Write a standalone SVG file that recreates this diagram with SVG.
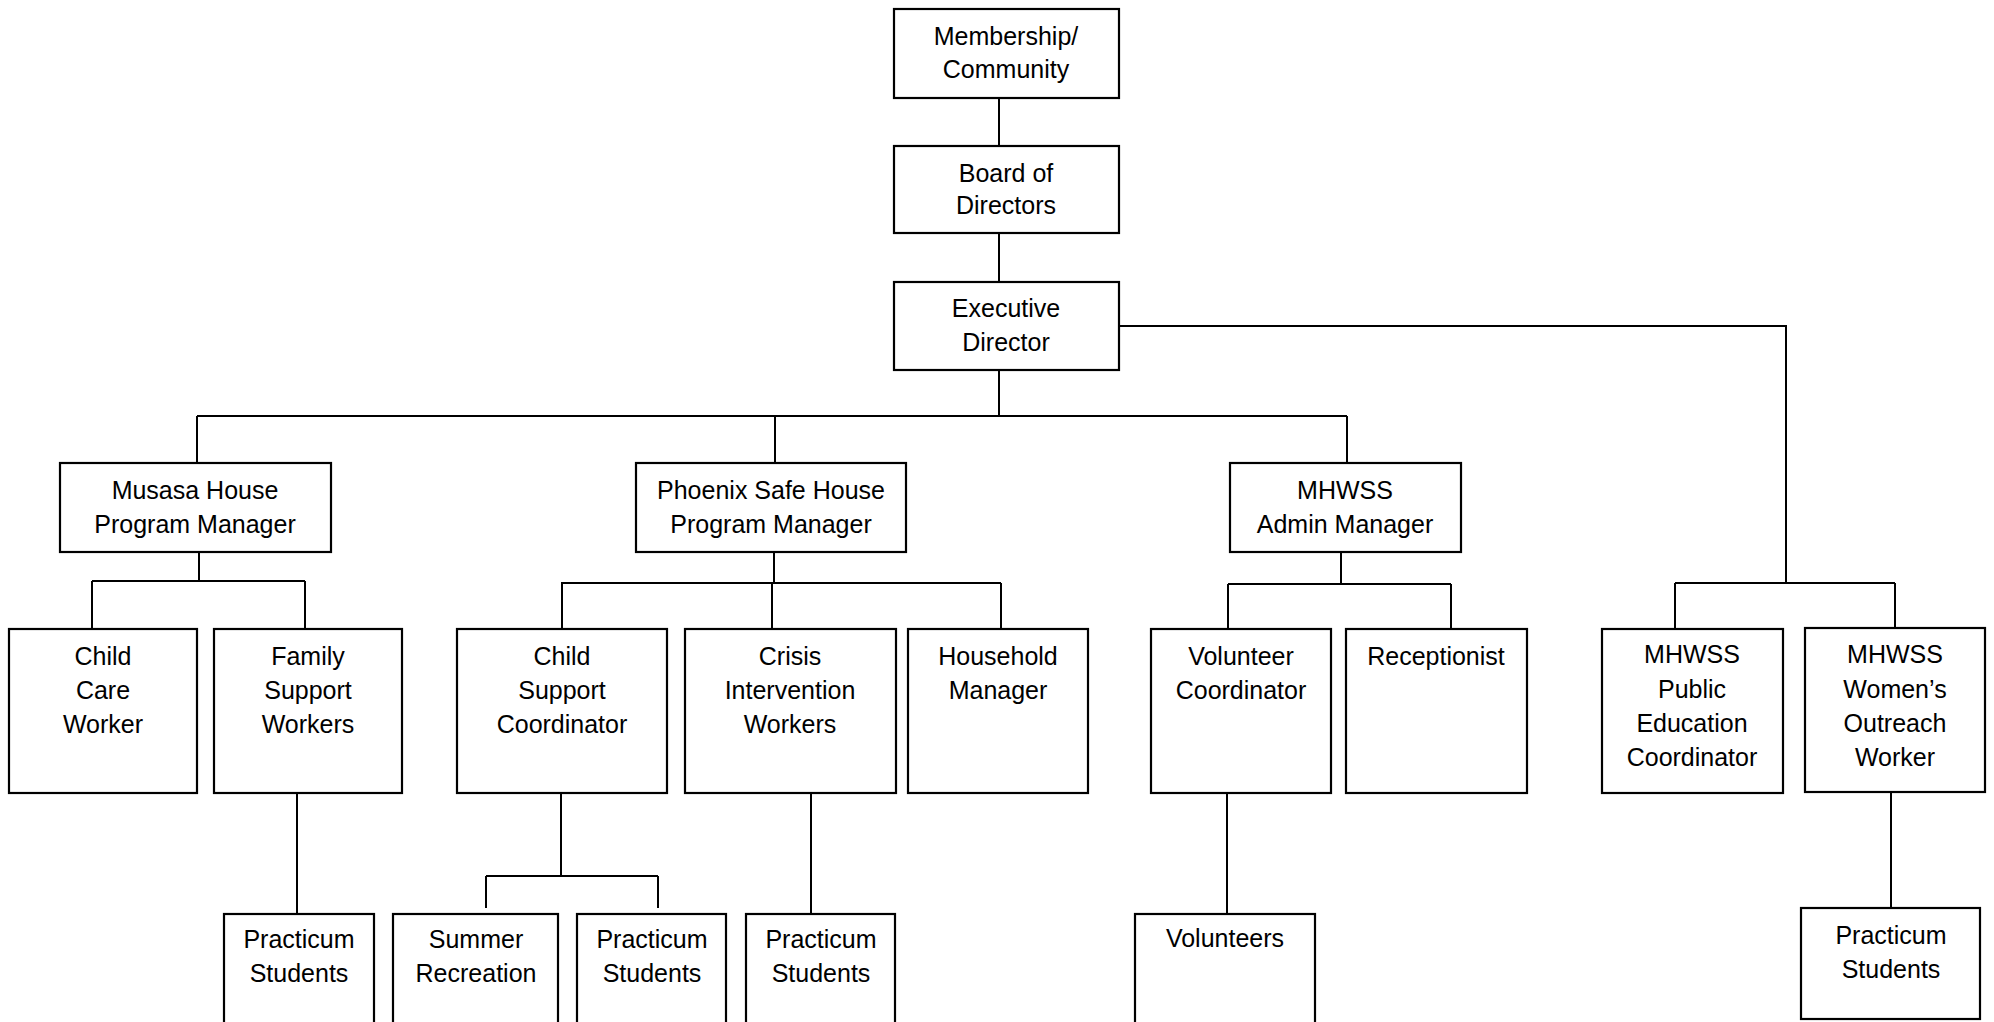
<svg xmlns="http://www.w3.org/2000/svg" width="1994" height="1022" viewBox="0 0 1994 1022">
<style>
.box{fill:#fff;stroke:#000;stroke-width:2.2}
.ln{fill:none;stroke:#000;stroke-width:2}
text{font-family:"Liberation Sans",Arial,sans-serif;font-size:25px;fill:#000;text-anchor:middle}
</style>
<rect width="1994" height="1022" fill="#fff"/>
<g id="connectors" class="ln">
<path d="M999,98V146M999,233V282M999,370V416M197,416H1347M197,416V463M775,416V463M1347,416V463"/>
<path d="M1119,326H1786V583M1675,583H1895M1675,583V629M1895,583V628"/>
<path d="M199,552V581M92,581H305M92,581V629M305,581V629"/>
<path d="M774,552V583M561,583H1001M562,583V629M772,583V629M1001,583V629"/>
<path d="M1341,552V584M1228,584H1451M1228,584V629M1451,584V629"/>
<path d="M297,793V914M561,793V876M486,876H658M486,876V908M658,876V908M811,793V914M1227,793V914M1891,792V908"/>
</g>
<g id="membership"><rect class="box" x="894" y="9" width="225" height="89"/><text x="1006" y="45">Membership/</text><text x="1006" y="78">Community</text></g>
<g id="board"><rect class="box" x="894" y="146" width="225" height="87"/><text x="1006" y="182">Board of</text><text x="1006" y="214">Directors</text></g>
<g id="executive"><rect class="box" x="894" y="282" width="225" height="88"/><text x="1006" y="317">Executive</text><text x="1006" y="351">Director</text></g>
<g id="musasa"><rect class="box" x="60" y="463" width="271" height="89"/><text x="195" y="499">Musasa House</text><text x="195" y="533">Program Manager</text></g>
<g id="phoenix"><rect class="box" x="636" y="463" width="270" height="89"/><text x="771" y="499">Phoenix Safe House</text><text x="771" y="533">Program Manager</text></g>
<g id="admin"><rect class="box" x="1230" y="463" width="231" height="89"/><text x="1345" y="499">MHWSS</text><text x="1345" y="533">Admin Manager</text></g>
<g id="childcare"><rect class="box" x="9" y="629" width="188" height="164"/><text x="103" y="665">Child</text><text x="103" y="699">Care</text><text x="103" y="733">Worker</text></g>
<g id="family"><rect class="box" x="214" y="629" width="188" height="164"/><text x="308" y="665">Family</text><text x="308" y="699">Support</text><text x="308" y="733">Workers</text></g>
<g id="childsupport"><rect class="box" x="457" y="629" width="210" height="164"/><text x="562" y="665">Child</text><text x="562" y="699">Support</text><text x="562" y="733">Coordinator</text></g>
<g id="crisis"><rect class="box" x="685" y="629" width="211" height="164"/><text x="790" y="665">Crisis</text><text x="790" y="699">Intervention</text><text x="790" y="733">Workers</text></g>
<g id="household"><rect class="box" x="908" y="629" width="180" height="164"/><text x="998" y="665">Household</text><text x="998" y="699">Manager</text></g>
<g id="volcoord"><rect class="box" x="1151" y="629" width="180" height="164"/><text x="1241" y="665">Volunteer</text><text x="1241" y="699">Coordinator</text></g>
<g id="receptionist"><rect class="box" x="1346" y="629" width="181" height="164"/><text x="1436" y="665">Receptionist</text></g>
<g id="publiced"><rect class="box" x="1602" y="629" width="181" height="164"/><text x="1692" y="663">MHWSS</text><text x="1692" y="698">Public</text><text x="1692" y="732">Education</text><text x="1692" y="766">Coordinator</text></g>
<g id="womens"><rect class="box" x="1805" y="628" width="180" height="164"/><text x="1895" y="663">MHWSS</text><text x="1895" y="698">Women’s</text><text x="1895" y="732">Outreach</text><text x="1895" y="766">Worker</text></g>
<g id="practicum1"><rect class="box" x="224" y="914" width="150" height="120"/><text x="299" y="948">Practicum</text><text x="299" y="982">Students</text></g>
<g id="summer"><rect class="box" x="393" y="914" width="165" height="120"/><text x="476" y="948">Summer</text><text x="476" y="982">Recreation</text></g>
<g id="practicum2"><rect class="box" x="577" y="914" width="149" height="120"/><text x="652" y="948">Practicum</text><text x="652" y="982">Students</text></g>
<g id="practicum3"><rect class="box" x="746" y="914" width="149" height="120"/><text x="821" y="948">Practicum</text><text x="821" y="982">Students</text></g>
<g id="volunteers"><rect class="box" x="1135" y="914" width="180" height="120"/><text x="1225" y="947">Volunteers</text></g>
<g id="practicum4"><rect class="box" x="1801" y="908" width="179" height="111"/><text x="1891" y="944">Practicum</text><text x="1891" y="978">Students</text></g>
</svg>
